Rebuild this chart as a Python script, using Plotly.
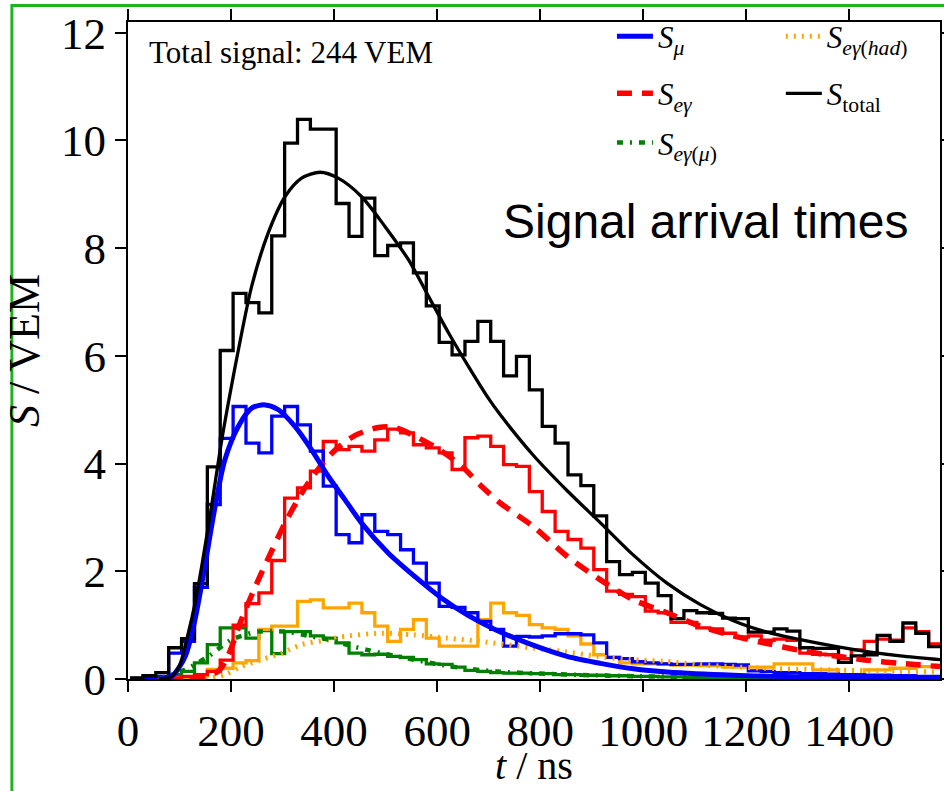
import plotly.graph_objects as go

# ---------------- data ----------------
BIN_START = 4      # ns, left edge of first bin
BIN_WIDTH = 25     # ns
N_BINS = 63

S_TOTAL_HIST = [0.02, 0.06, 0.12, 0.58, 0.75, 1.77, 3.94, 6.10, 7.16, 6.99,
                6.80, 8.23, 9.95, 10.39, 10.21, 10.21, 8.83, 8.22, 8.93, 7.86,
                8.05, 8.10, 7.54, 6.93, 6.25, 6.02, 6.27, 6.64, 6.27, 5.63,
                5.99, 5.37, 4.69, 4.38, 3.79, 3.59, 3.03, 2.18, 1.94, 1.98,
                1.78, 1.55, 1.12, 1.27, 1.23, 1.22, 1.13, 1.12, 0.87, 0.87,
                0.93, 0.89, 0.58, 0.57, 0.57, 0.31, 0.43, 0.45, 0.81, 0.70,
                1.04, 0.85, 0.60]
S_MU_HIST = [0.01, 0.03, 0.05, 0.48, 0.70, 1.70, 3.24, 4.47, 5.06, 4.38,
             4.20, 4.88, 5.06, 4.72, 4.23, 3.58, 2.68, 2.53, 3.05, 2.74,
             2.68, 2.40, 2.15, 1.78, 1.35, 1.33, 1.23, 1.07, 0.92, 0.61,
             0.79, 0.78, 0.80, 0.84, 0.84, 0.82, 0.67, 0.40, 0.38, 0.32,
             0.30, 0.28, 0.27, 0.27, 0.28, 0.28, 0.27, 0.26, 0.15, 0.14,
             0.12, 0.12, 0.10, 0.10, 0.09, 0.08, 0.08, 0.07, 0.07, 0.06,
             0.06, 0.05, 0.05]
S_EG_HIST = [0.00, 0.00, 0.01, 0.02, 0.05, 0.08, 0.14, 0.35, 1.00, 1.40,
             1.60, 2.20, 3.36, 3.55, 3.86, 4.41, 4.26, 4.32, 4.23, 4.44,
             4.64, 4.57, 4.35, 4.29, 4.20, 3.89, 4.48, 4.51, 4.32, 3.98,
             3.95, 3.48, 3.11, 2.74, 2.59, 2.43, 2.03, 1.63, 1.57, 1.53,
             1.26, 1.23, 1.05, 1.05, 0.95, 0.93, 0.85, 0.78, 0.80, 0.72,
             0.74, 0.72, 0.48, 0.46, 0.45, 0.38, 0.54, 0.70, 0.74, 0.72,
             0.95, 0.88, 0.65]
S_EG_HAD_HIST = [0.00, 0.00, 0.01, 0.02, 0.03, 0.06, 0.18, 0.20, 0.30, 0.34,
                 0.92, 0.98, 0.98, 1.44, 1.47, 1.32, 1.32, 1.41, 1.23, 0.98,
                 0.70, 0.92, 1.10, 0.76, 0.61, 0.61, 0.61, 1.10, 1.41, 1.23,
                 1.18, 1.01, 0.95, 0.92, 0.80, 0.65, 0.45, 0.40, 0.30, 0.28,
                 0.28, 0.28, 0.26, 0.26, 0.25, 0.25, 0.22, 0.22, 0.22, 0.22,
                 0.28, 0.28, 0.28, 0.17, 0.17, 0.08, 0.08, 0.17, 0.17, 0.20,
                 0.20, 0.23, 0.23]
S_EG_MU_HIST = [0.00, 0.01, 0.02, 0.08, 0.14, 0.30, 0.64, 0.95, 0.95, 0.76,
                0.90, 0.47, 0.88, 0.88, 0.80, 0.76, 0.67, 0.48, 0.45, 0.46,
                0.42, 0.40, 0.36, 0.28, 0.27, 0.22, 0.16, 0.14, 0.12, 0.11,
                0.11, 0.10, 0.10, 0.08, 0.08, 0.07, 0.07, 0.06, 0.06, 0.05,
                0.05, 0.04, 0.04, 0.03, 0.03, 0.03, 0.03, 0.03, 0.02, 0.02,
                0.02, 0.02, 0.02, 0.02, 0.02, 0.01, 0.01, 0.01, 0.01, 0.01,
                0.01, 0.01, 0.01]

FIT_TOTAL_T = [60, 85, 100, 117, 130, 143, 162, 182, 201, 214, 240, 272, 305,
               337, 373, 408, 453, 499, 544, 583, 622, 661, 699, 723, 787, 852,
               917, 981, 1046, 1111, 1175, 1240, 1305, 1370, 1434, 1499, 1576]
FIT_TOTAL_S = [0.0, 0.05, 0.25, 0.85, 1.40, 2.09, 3.20, 4.44, 5.45, 6.10, 7.29,
               8.28, 8.96, 9.30, 9.41, 9.30, 8.96, 8.40, 7.79, 7.11, 6.43, 5.80,
               5.22, 4.90, 4.15, 3.50, 2.90, 2.30, 1.78, 1.38, 1.08, 0.87, 0.73,
               0.61, 0.51, 0.43, 0.36]
FIT_MU_T = [60, 85, 111, 130, 149, 169, 188, 214, 240, 266, 292, 324, 356, 389,
            421, 453, 505, 557, 609, 660, 712, 777, 852, 917, 981, 1046, 1175,
            1370, 1576]
FIT_MU_S = [0.0, 0.05, 0.42, 1.10, 2.09, 3.20, 4.07, 4.69, 5.03, 5.09, 5.00,
            4.69, 4.26, 3.76, 3.33, 2.90, 2.34, 1.90, 1.50, 1.18, 0.92, 0.66,
            0.42, 0.29, 0.19, 0.13, 0.07, 0.03, 0.01]
FIT_EG_T = [120, 150, 176, 195, 220, 253, 280, 305, 337, 360, 382, 402, 440,
            486, 518, 563, 609, 648, 686, 725, 787, 852, 917, 981, 1046, 1111,
            1175, 1240, 1305, 1370, 1434, 1499, 1576]
FIT_EG_S = [0.0, 0.05, 0.15, 0.45, 1.10, 1.84, 2.40, 2.90, 3.45, 3.78, 4.05,
            4.25, 4.52, 4.67, 4.67, 4.48, 4.23, 3.95, 3.58, 3.25, 2.83, 2.28,
            1.84, 1.47, 1.23, 0.98, 0.80, 0.66, 0.53, 0.43, 0.35, 0.29, 0.23]
FIT_EG_MU_T = [60, 110, 156, 201, 253, 305, 356, 395, 412, 464, 522, 587, 651,
               716, 800, 900, 1000, 1200, 1400, 1576]
FIT_EG_MU_S = [0.0, 0.17, 0.42, 0.73, 0.88, 0.88, 0.79, 0.72, 0.67, 0.54, 0.42,
               0.30, 0.20, 0.14, 0.10, 0.07, 0.05, 0.03, 0.02, 0.01]
FIT_EG_HAD_T = [150, 188, 220, 259, 298, 337, 389, 412, 490, 554, 619, 684, 781,
                846, 910, 975, 1040, 1104, 1169, 1234, 1363, 1493, 1576]
FIT_EG_HAD_S = [0.0, 0.08, 0.23, 0.36, 0.48, 0.64, 0.73, 0.78, 0.85, 0.82, 0.76,
                0.70, 0.58, 0.51, 0.42, 0.36, 0.33, 0.27, 0.23, 0.20, 0.17, 0.14,
                0.13]

X_TICKS = [0, 200, 400, 600, 800, 1000, 1200, 1400]
Y_TICKS = [0, 2, 4, 6, 8, 10, 12]

NAME_MU = "<i>S</i><sub><i>μ</i></sub>"
NAME_EG = "<i>S</i><sub><i>eγ</i></sub>"
NAME_EG_MU = "<i>S</i><sub><i>eγ</i>(<i>μ</i>)</sub>"
NAME_EG_HAD = "<i>S</i><sub><i>eγ</i>(<i>had</i>)</sub>"
NAME_TOTAL = "<i>S</i><sub>total</sub>"

BLUE, RED, GREEN, ORANGE, BLACK = "#0000ff", "#ff0000", "#008000", "#ffa500", "#000000"

# ---------------- figure ----------------
edges = [BIN_START + BIN_WIDTH * k for k in range(N_BINS + 1)]


def step_y(vals):
    return list(vals) + [vals[-1]]


fig = go.Figure()

for vals, col in [(S_EG_MU_HIST, GREEN), (S_EG_HAD_HIST, ORANGE),
                  (S_EG_HIST, RED), (S_MU_HIST, BLUE), (S_TOTAL_HIST, BLACK)]:
    fig.add_trace(go.Scatter(x=edges, y=step_y(vals), mode="lines",
                             line=dict(color=col, width=3.3, shape="hv"),
                             showlegend=False, hoverinfo="skip"))

# each legend entry gets its own legend box so the 2-column layout matches
fits = [
    (FIT_EG_HAD_T, FIT_EG_HAD_S, ORANGE, 5, "2px,6px", NAME_EG_HAD, "legend2"),
    (FIT_EG_MU_T, FIT_EG_MU_S, GREEN, 4.5, "6px,7px,2px,7px", NAME_EG_MU, "legend5"),
    (FIT_EG_T, FIT_EG_S, RED, 5.5, "15px,10px", NAME_EG, "legend3"),
    (FIT_MU_T, FIT_MU_S, BLUE, 5, "solid", NAME_MU, "legend"),
    (FIT_TOTAL_T, FIT_TOTAL_S, BLACK, 3.3, "solid", NAME_TOTAL, "legend4"),
]
for t, s, col, w, dash, name, leg in fits:
    fig.add_trace(go.Scatter(x=t, y=s, mode="lines", name=name,
                             line=dict(color=col, width=w, dash=dash,
                                       shape="spline", smoothing=0.8),
                             legend=leg))

legend_common = dict(font=dict(family="Liberation Serif", size=31, color="black"),
                     bgcolor="rgba(0,0,0,0)", borderwidth=0, itemwidth=36,
                     xanchor="left", yanchor="top", itemclick=False)

COL1_X, COL2_X = 0.596, 0.804
ROW_Y = [1.019, 0.932, 0.857]

fig.update_layout(
    width=944, height=791,
    margin=dict(l=128, r=4, t=22, b=112, autoexpand=False),
    paper_bgcolor="white", plot_bgcolor="white",
    font=dict(family="Liberation Serif", color="black"),
    legend=dict(x=COL1_X, y=ROW_Y[0], **legend_common),
    legend2=dict(x=COL2_X, y=ROW_Y[0], **legend_common),
    legend3=dict(x=COL1_X, y=ROW_Y[1], **legend_common),
    legend4=dict(x=COL2_X, y=ROW_Y[1], **legend_common),
    legend5=dict(x=COL1_X, y=ROW_Y[2], **legend_common),
    xaxis=dict(range=[0, 1576], tickvals=X_TICKS, ticks="outside", ticklen=11,
               tickwidth=1.5, tickcolor="black", mirror="ticks", showline=True,
               linecolor="black", linewidth=2, showgrid=False, zeroline=False,
               tickfont=dict(size=45)),
    yaxis=dict(range=[0, 12.2], tickvals=Y_TICKS, ticks="outside", ticklen=11,
               tickwidth=1.5, tickcolor="black", mirror="ticks", showline=True,
               linecolor="black", linewidth=2, showgrid=False, zeroline=False,
               tickfont=dict(size=45),
               title=dict(text="<i>S</i> / VEM", font=dict(size=44), standoff=14)),
    annotations=[
        dict(text="<i>t</i> / ns", xref="paper", yref="paper",
             x=0.5, y=-0.132, xanchor="center", yanchor="middle", showarrow=False,
             font=dict(family="Liberation Serif", size=40, color="black")),
        dict(text="Total signal: 244 VEM", xref="paper", yref="paper",
             x=0.024, y=0.954, xanchor="left", yanchor="middle", showarrow=False,
             font=dict(family="Liberation Serif", size=31, color="black")),
        dict(text="Signal arrival times", xref="paper", yref="paper",
             x=0.459, y=0.696, xanchor="left", yanchor="middle", showarrow=False,
             font=dict(family="Liberation Sans", size=48, color="black")),
    ],
    shapes=[dict(type="rect", xref="paper", yref="paper",
                 x0=-0.143, x1=1.2, y0=-0.4, y1=1.025,
                 line=dict(color="#1fb41f", width=3), layer="below")],
)

fig.write_html("out.html")
